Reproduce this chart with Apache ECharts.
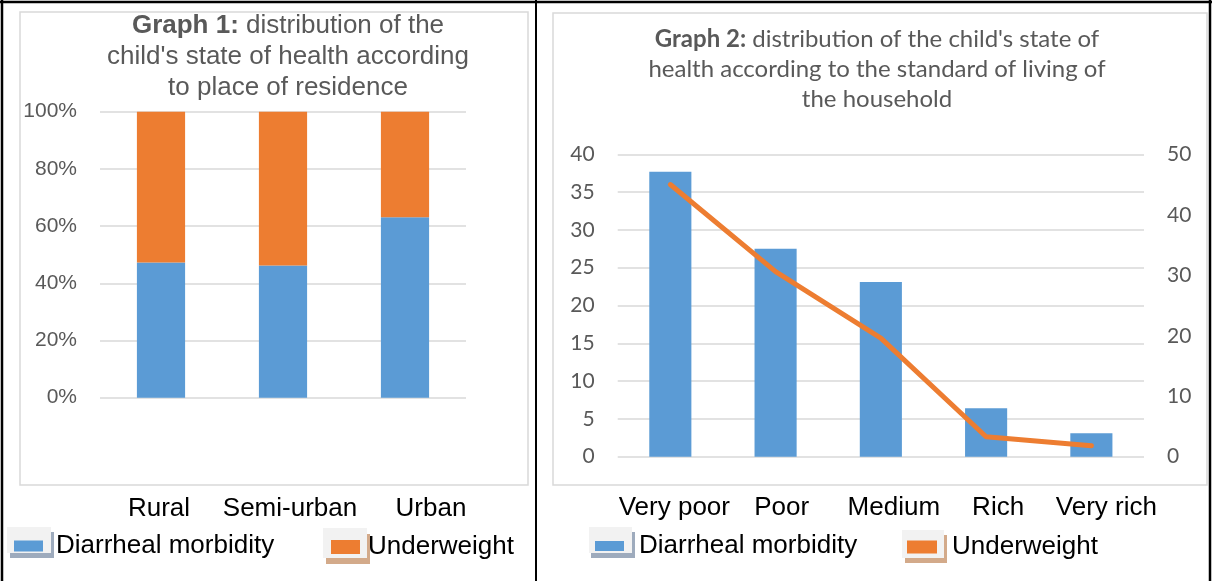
<!DOCTYPE html>
<html>
<head>
<meta charset="utf-8">
<script src="https://cdn.jsdelivr.net/npm/echarts@6/dist/echarts.min.js"></script>
<style>
  html, body { margin: 0; padding: 0; background: #fff; }
  #main { width: 1212px; height: 581px; }
</style>
</head>
<body>
<div id="main"></div>
<script>
// graph 1 : place of residence (stacked to 100%)
var residenceCats = ['Rural', 'Semi-urban', 'Urban'];
var diarrhealByResidence = [47.3, 46.2, 63.1];
var underweightByResidence = [52.7, 53.8, 36.9];

// graph 2 : standard of living
var livingCats = ['Very poor', 'Poor', 'Medium', 'Rich', 'Very rich'];
var diarrhealByLiving = [37.7, 27.5, 23.1, 6.4, 3.1];
var underweightByLiving = [45.0, 30.6, 19.6, 3.3, 1.8];

var BLUE = '#5B9BD5', ORANGE = '#ED7D31', GRID = '#d9d9d9', GREY = '#595959';
var ARIAL = '"Liberation Sans", Arial, sans-serif';
var LATO = 'Lato, "Open Sans", sans-serif';

// horizontal nudges of the category labels (they sit a bit off the bars in the original)
var shift1 = [-2, 7, 26];
var shift2 = [4, 6, 13, 12, 15];

function shiftedLabels(shifts) {
	var rich = {};
	shifts.forEach(function(s, i) {
		rich['s' + i] = {
			fontFamily: ARIAL, fontSize: 26, color: '#000',
			padding: s >= 0 ? [0, 0, 0, 2 * s] : [0, -2 * s, 0, 0]
		};
	});
	return {
		formatter: function(v, i) { return '{s' + i + '|' + v + '}'; },
		rich: rich
	};
}

// one legend entry; drop pushes the text below the key's centre
function legendItem(name, left, top, w, h, pad, drop) {
	return {
		data: [name], left: left, top: top, padding: 0,
		itemWidth: w, itemHeight: h, icon: 'rect', selectedMode: false,
		textStyle: { fontFamily: ARIAL, fontSize: 26, color: '#000', lineHeight: 28, padding: [2 * drop, 0, 0, pad] }
	};
}

function box(x, y, w, h, fill) {
	return { type: 'rect', shape: { x: x, y: y, width: w, height: h }, style: { fill: fill }, silent: true };
}

function line(x1, y1, x2, y2, w) {
	return { type: 'line', shape: { x1: x1, y1: y1, x2: x2, y2: y2 }, style: { stroke: '#000', lineWidth: w }, silent: true };
}

var lab1 = shiftedLabels(shift1);
var lab2 = shiftedLabels(shift2);

var option = {
	animation: false,
	grid: [
		{ left: 100, top: 111.7, width: 366, height: 286 },
		{ left: 617.7, top: 154.3, width: 526.3, height: 302.4 }
	],
	xAxis: [{
		type: 'category', gridIndex: 0, data: residenceCats,
		axisLine: { show: false }, axisTick: { show: false },
		axisLabel: { margin: 98, formatter: lab1.formatter, rich: lab1.rich }
	}, {
		type: 'category', gridIndex: 1, data: livingCats,
		axisLine: { show: false }, axisTick: { show: false },
		axisLabel: { margin: 38, formatter: lab2.formatter, rich: lab2.rich }
	}],
	yAxis: [{
		type: 'value', gridIndex: 0, min: 0, max: 100, interval: 20,
		axisLine: { show: false }, axisTick: { show: false },
		axisLabel: { formatter: '{value}%', margin: 23, fontFamily: ARIAL, fontSize: 21, color: GREY },
		splitLine: { lineStyle: { color: GRID, width: 1.5 } }
	}, {
		type: 'value', gridIndex: 1, min: 0, max: 40, interval: 5,
		axisLine: { show: false }, axisTick: { show: false },
		axisLabel: { margin: 23, fontFamily: LATO, fontSize: 21, color: GREY },
		splitLine: { lineStyle: { color: GRID, width: 1.5 } }
	}, {
		type: 'value', gridIndex: 1, position: 'right', min: 0, max: 50, interval: 10,
		axisLine: { show: false }, axisTick: { show: false },
		axisLabel: { margin: 23, fontFamily: LATO, fontSize: 21, color: GREY },
		splitLine: { show: false }
	}],
	legend: [
		legendItem('Diarrheal morbidity', 14, 527, 29, 11, 8, 5),
		legendItem('Underweight', 331, 530, 29, 14, 3, 3),
		legendItem('Diarrheal morbidity', 595, 527, 29, 10, 10, 5),
		legendItem('Underweight', 907, 530, 30, 13, 10, 3)
	],
	series: [{
		name: 'Diarrheal morbidity', type: 'bar', stack: 'res',
		xAxisIndex: 0, yAxisIndex: 0, barWidth: '39.5%',
		itemStyle: { color: BLUE }, data: diarrhealByResidence
	}, {
		name: 'Underweight', type: 'bar', stack: 'res',
		xAxisIndex: 0, yAxisIndex: 0, barWidth: '39.5%',
		itemStyle: { color: ORANGE }, data: underweightByResidence
	}, {
		name: 'Diarrheal morbidity', type: 'bar',
		xAxisIndex: 1, yAxisIndex: 1, barWidth: '40%',
		itemStyle: { color: BLUE }, data: diarrhealByLiving
	}, {
		name: 'Underweight', type: 'line',
		xAxisIndex: 1, yAxisIndex: 2, symbol: 'none',
		lineStyle: { color: ORANGE, width: 5, cap: 'round', join: 'round' },
		itemStyle: { color: ORANGE }, data: underweightByLiving
	}],
	graphic: [
		// table borders
		line(0, 2, 1212, 2, 2.5),
		line(2, 0, 2, 581, 2.5),
		line(536, 0, 536, 581, 2),
		line(1210, 0, 1210, 581, 2.5),
		// chart frames
		{ type: 'rect', shape: { x: 20, y: 12, width: 508, height: 473 }, style: { fill: null, stroke: GRID, lineWidth: 1.5 }, silent: true },
		{ type: 'rect', shape: { x: 553, y: 13, width: 654, height: 472 }, style: { fill: null, stroke: GRID, lineWidth: 1.5 }, silent: true },
		// legend key boxes with their drop shadows
		box(10, 532, 44, 26, '#9eabbd'), box(7, 527, 44, 26, '#f2f2f2'),
		box(326, 534, 44, 30, '#d3aa8a'), box(323, 528, 44, 30, '#f2f2f2'),
		box(591, 532, 44, 26, '#9eabbd'), box(589, 527, 43, 26, '#f2f2f2'),
		box(905, 535, 42, 28, '#d3aa8a'), box(902, 530, 42, 28, '#f2f2f2'),
		// titles
		{
			type: 'text', x: 288, y: 10, silent: true,
			style: {
				text: '{b|Graph 1:} distribution of the\nchild\'s state of health according\nto place of residence',
				align: 'center', fontFamily: ARIAL, fontSize: 26, lineHeight: 31, fill: GREY,
				rich: { b: { fontFamily: ARIAL, fontSize: 26, fontWeight: 'bold', lineHeight: 31, fill: GREY } }
			}
		},
		{
			type: 'text', x: 877, y: 24, silent: true,
			style: {
				text: '{b|Graph 2:} distribution of the child\'s state of\nhealth according to the standard of living of\nthe household',
				align: 'center', fontFamily: LATO, fontSize: 24, lineHeight: 30, fill: GREY,
				rich: { b: { fontFamily: LATO, fontSize: 24, fontWeight: 'bold', lineHeight: 30, fill: GREY } }
			}
		}
	]
};

var chart = echarts.init(document.getElementById('main'));
chart.setOption(option);
</script>
</body>
</html>
